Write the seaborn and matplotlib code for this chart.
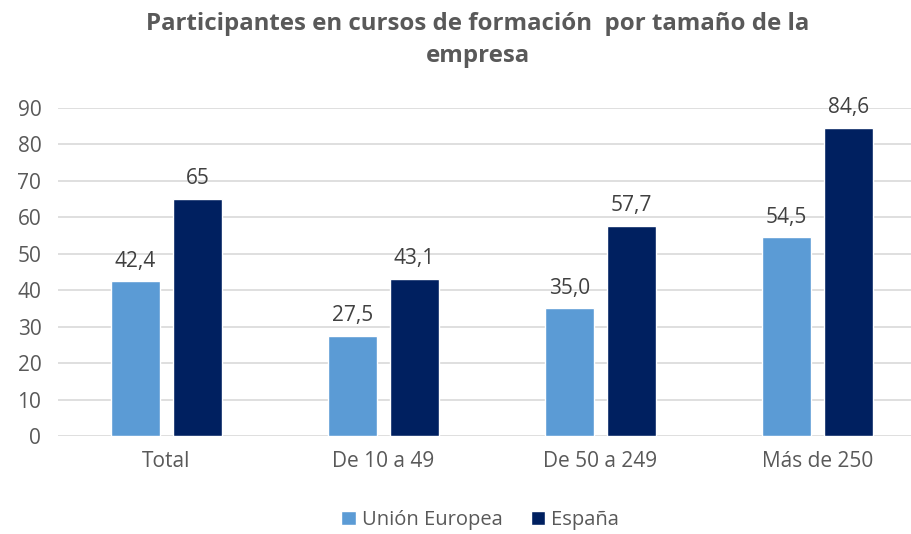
import pandas as pd
import matplotlib.pyplot as plt
import seaborn as sns

# Datos
categorias = ["Total", "De 10 a 49", "De 50 a 249", "Más de 250"]
series = ["Unión Europea", "España"]
valores_ue = [42.4, 27.5, 35.0, 54.5]
valores_es = [65, 43.1, 57.7, 84.6]
etiquetas_ue = ["42,4", "27,5", "35,0", "54,5"]
etiquetas_es = ["65", "43,1", "57,7", "84,6"]
colores = ["#5B9BD5", "#002060"]

df = pd.DataFrame({
    "Tamaño": categorias * 2,
    "Serie": [series[0]] * 4 + [series[1]] * 4,
    "Valor": valores_ue + valores_es,
})

sns.set_style("white")
plt.rcParams["font.family"] = ["Open Sans", "DejaVu Sans"]
gris = "#595959"

fig = plt.figure(figsize=(9.12, 5.34), dpi=100)
ax = fig.add_axes([58 / 912, 1 - 436 / 534, 868 / 912, 328 / 534])

sns.barplot(data=df, x="Tamaño", y="Valor", hue="Serie", order=categorias,
            hue_order=series, palette=colores, width=0.571, gap=0.21,
            saturation=1, ax=ax, legend=True)

ax.set_xlim(-0.5, 3.5)
ax.set_ylim(0, 90)
ax.set_yticks(range(0, 100, 10))
ax.yaxis.grid(True, color="#d9d9d9", linewidth=1.2)
ax.set_axisbelow(True)
for s in ax.spines.values():
    s.set_visible(False)
ax.tick_params(axis="both", length=0, labelsize=15, labelcolor=gris)
ax.tick_params(axis="x", pad=11)
ax.tick_params(axis="y", pad=12)
ax.set_xlabel("")
ax.set_ylabel("")

# Etiquetas de datos
for cont, etiq in zip(ax.containers, [etiquetas_ue, etiquetas_es]):
    ax.bar_label(cont, labels=etiq, padding=7, fontsize=15, color="#404040", clip_on=False)

handles, labels = ax.get_legend_handles_labels()
ax.legend().remove()
fig.legend(handles, labels, loc="center", bbox_to_anchor=(480 / 912, 1 - 520 / 534),
           ncol=2, frameon=False, fontsize=14.5, labelcolor=gris,
           handlelength=0.7, handleheight=0.7, handletextpad=0.3, columnspacing=1.4)

fig.text(478 / 912, 1 - 40 / 534,
         "Participantes en cursos de formación  por tamaño de la\nempresa",
         ha="center", va="center", fontsize=17.3, fontweight="bold", color=gris,
         linespacing=1.45)

fig.savefig("out.png", dpi=100)
